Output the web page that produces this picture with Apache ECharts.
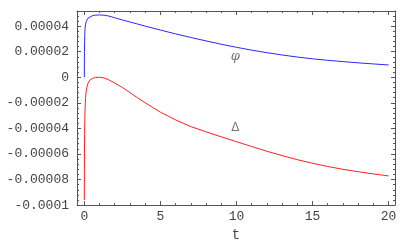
<!DOCTYPE html>
<html>
<head>
<meta charset="utf-8">
<script src="https://cdn.jsdelivr.net/npm/echarts@6/dist/echarts.min.js"></script>
<style>html,body{margin:0;padding:0;background:#fff}#c{width:400px;height:247px}</style>
</head>
<body>
<div id="c"></div>
<script>
const tVals = [0, 0.005, 0.01, 0.02, 0.03, 0.05, 0.08, 0.12, 0.16, 0.25, 0.37, 0.55, 0.75, 1.0, 1.3, 1.6, 2.0, 2.5, 3, 3.5, 4, 5, 6, 7, 8, 9, 10, 11, 12, 13, 14, 15, 16, 17, 18, 19, 20];
const phiVals = [0, 1.2e-5, 2.0e-5, 2.8e-5, 3.25e-5, 3.8e-5, 4.1e-5, 4.35e-5, 4.48e-5, 4.63e-5, 4.74e-5, 4.82e-5, 4.86e-5, 4.87e-5, 4.85e-5, 4.79e-5, 4.65e-5, 4.48e-5, 4.32e-5, 4.16e-5, 4.0e-5, 3.69e-5, 3.39e-5, 3.11e-5, 2.84e-5, 2.58e-5, 2.34e-5, 2.12e-5, 1.92e-5, 1.74e-5, 1.58e-5, 1.44e-5, 1.325e-5, 1.22e-5, 1.125e-5, 1.04e-5, 0.96e-5];
const deltaVals = [-9.6e-5, -7.5e-5, -6.0e-5, -4.5e-5, -3.6e-5, -2.5e-5, -1.6e-5, -1.1e-5, -0.8e-5, -0.45e-5, -0.22e-5, -0.08e-5, -0.02e-5, 0.0, -0.06e-5, -0.2e-5, -0.45e-5, -0.8e-5, -1.2e-5, -1.61e-5, -2.0e-5, -2.73e-5, -3.34e-5, -3.86e-5, -4.27e-5, -4.66e-5, -5.04e-5, -5.42e-5, -5.79e-5, -6.13e-5, -6.45e-5, -6.73e-5, -6.98e-5, -7.2e-5, -7.39e-5, -7.56e-5, -7.72e-5];
const xTickValues = [0, 5, 10, 15, 20];
const xTickLabels = ['0', '5', '10', '15', '20'];
const xMinorValues = [1, 2, 3, 4, 6, 7, 8, 9, 11, 12, 13, 14, 16, 17, 18, 19];
const yTickValues = [-0.0001, -0.00008, -0.00006, -0.00004, -0.00002, 0, 0.00002, 0.00004];
const yTickLabels = ['-0.0001', '-0.00008', '-0.00006', '-0.00004', '-0.00002', '0', '0.00002', '0.00004'];
const yMinorValues = [-0.000096, -0.000092, -0.000088, -0.000084, -0.000076, -0.000072, -0.000068, -0.000064, -0.000056, -0.000052, -0.000048, -0.000044, -0.000036, -0.000032, -0.000028, -0.000024, -0.000016, -0.000012, -0.000008, -0.000004, 0.000004, 0.000008, 0.000012, 0.000016, 0.000024, 0.000028, 0.000032, 0.000036, 0.000044, 0.000048];
const curveLabels = [{name: 'φ', t: 9.92, v: 1.62e-5, italic: true}, {name: 'Δ', t: 9.92, v: -3.97e-5, italic: false}];

const X_MIN = -0.48, X_MAX = 20.42, Y_MIN = -0.0001, Y_MAX = 0.0000518;
const frameColor = '#555';
const labelFont = {fontFamily: 'Liberation Mono', fontSize: 13, color: '#444'};

function xAxisDef(pos, vals, len, withLabels, showLine) {
  return {
    type: 'value', position: pos, min: X_MIN, max: X_MAX,
    axisLine: {show: showLine, onZero: false, lineStyle: {color: frameColor, width: 1}},
    axisTick: {show: true, inside: true, length: len, customValues: vals, lineStyle: {color: frameColor, width: 1}},
    axisLabel: withLabels ? Object.assign({show: true, margin: 5, customValues: vals,
      formatter: v => { const i = xTickValues.findIndex(a => Math.abs(a - v) < 1e-9); return i >= 0 ? xTickLabels[i] : ''; }}, labelFont) : {show: false},
    splitLine: {show: false},
    name: withLabels ? 't' : '', nameLocation: 'middle', nameGap: 19,
    nameTextStyle: {fontFamily: 'Liberation Mono', fontSize: 14, color: '#444'}
  };
}
function yAxisDef(pos, vals, len, withLabels, showLine) {
  return {
    type: 'value', position: pos, min: Y_MIN, max: Y_MAX,
    axisLine: {show: showLine, onZero: false, lineStyle: {color: frameColor, width: 1}},
    axisTick: {show: true, inside: true, length: len, customValues: vals, lineStyle: {color: frameColor, width: 1}},
    axisLabel: withLabels ? Object.assign({show: true, margin: 8, customValues: vals,
      formatter: v => { const i = yTickValues.findIndex(a => Math.abs(a - v) < 1e-12); return i >= 0 ? yTickLabels[i] : ''; }}, labelFont) : {show: false},
    splitLine: {show: false}
  };
}

const chart = echarts.init(document.getElementById('c'), null, {renderer: 'canvas'});
chart.setOption({
  animation: false,
  backgroundColor: '#fff',
  grid: {left: 77, top: 11, right: 5, bottom: 39, containLabel: false},
  xAxis: [
    xAxisDef('bottom', xTickValues, 4, true, true),
    xAxisDef('top', xTickValues, 4, false, true),
    xAxisDef('bottom', xMinorValues, 2, false, false),
    xAxisDef('top', xMinorValues, 2, false, false)
  ],
  yAxis: [
    yAxisDef('left', yTickValues, 4, true, true),
    yAxisDef('right', yTickValues, 4, false, true),
    yAxisDef('left', yMinorValues, 2, false, false),
    yAxisDef('right', yMinorValues, 2, false, false)
  ],
  series: [
    {type: 'line', name: 'φ', data: tVals.map((t, i) => [t, phiVals[i]]), showSymbol: false, symbol: 'none',
      smooth: false, lineStyle: {color: '#2a2aff', width: 1}, clip: true},
    {type: 'line', name: 'Δ', data: tVals.map((t, i) => [t, deltaVals[i]]), showSymbol: false, symbol: 'none',
      smooth: false, lineStyle: {color: '#ff2020', width: 1}, clip: true},
    {type: 'scatter', symbolSize: 0, silent: true,
      data: curveLabels.map(c => ({value: [c.t, c.v], name: c.name,
        label: {fontStyle: c.italic ? 'italic' : 'normal', fontFamily: c.italic ? 'DejaVu Serif' : 'DejaVu Sans', fontSize: c.italic ? 13 : 12}})),
      label: {show: true, position: 'inside', formatter: p => p.name, color: '#555'}}
  ]
});
</script>
</body>
</html>
